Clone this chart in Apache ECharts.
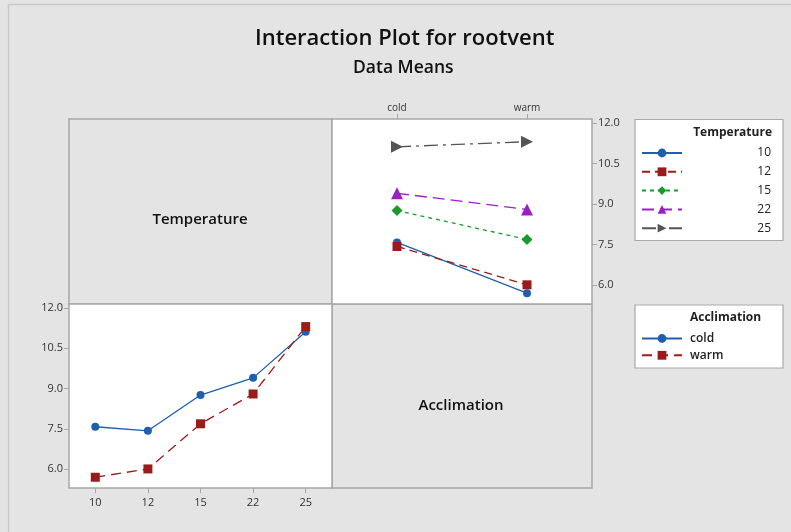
<!DOCTYPE html>
<html><head><meta charset="utf-8">
<script src="https://cdn.jsdelivr.net/npm/echarts@6/dist/echarts.min.js"></script>
<style>html,body{margin:0;padding:0;background:#e4e4e4}#c{width:791px;height:532px}</style>
</head><body><div id="c"></div>
<script>
const acclimation = ['cold', 'warm'];
const temperatures = ['10', '12', '15', '22', '25'];
// means by temperature (rows) and acclimation (cold, warm)
const temp10 = [7.58, 5.70];
const temp12 = [7.43, 6.01];
const temp15 = [8.76, 7.69];
const temp22 = [9.40, 8.80];
const temp25 = [11.12, 11.31];
// means by acclimation across temperatures
const coldMeans = [7.58, 7.43, 8.76, 9.40, 11.12];
const warmMeans = [5.70, 6.01, 7.69, 8.80, 11.31];
const yTicks = [6.0, 7.5, 9.0, 10.5, 12.0];

const FONT = 'Open Sans';
const GRIDC = '#a6a6a6';
const tempStyles = [
  {name:'10', data:temp10, color:'#1f5fad', symbol:'circle', size:8, dash:'solid'},
  {name:'12', data:temp12, color:'#9b1b1b', symbol:'rect', size:9, dash:[8,5]},
  {name:'15', data:temp15, color:'#1a9a2c', symbol:'diamond', size:11, dash:[4,4]},
  {name:'22', data:temp22, color:'#9b20c4', symbol:'triangle', size:12, dash:[12,6]},
  {name:'25', data:temp25, color:'#555555', symbol:'path://M0,0L10,5L0,10Z', size:12, dash:[14,5,3,5]}
];

const chart = echarts.init(document.getElementById('c'), null, {renderer:'canvas'});
const yAxisCommon = {
  type:'value', min:5.3, max:12.15,
  splitLine:{show:false},
  axisLine:{show:false},
  axisTick:{show:true, customValues:yTicks, length:5, lineStyle:{color:GRIDC}},
  axisLabel:{customValues:yTicks, formatter:v=>v.toFixed(1), color:'#333', fontFamily:FONT, fontSize:11, margin:6}
};
const series = [];
tempStyles.forEach(s=>{
  series.push({
    name:s.name, type:'line', xAxisIndex:0, yAxisIndex:0, data:s.data,
    symbol:s.symbol, symbolSize:s.size, showSymbol:true,
    itemStyle:{color:s.color}, lineStyle:{color:s.color, width:1.3, type:s.dash},
    emphasis:{disabled:true}, animation:false, z:3
  });
});
series.push({
  name:'cold', type:'line', xAxisIndex:1, yAxisIndex:1, data:coldMeans,
  symbol:'circle', symbolSize:8, itemStyle:{color:'#1f5fad'}, lineStyle:{color:'#1f5fad', width:1.3, type:'solid'},
  animation:false, z:3
});
series.push({
  name:'warm', type:'line', xAxisIndex:1, yAxisIndex:1, data:warmMeans,
  symbol:'rect', symbolSize:9, itemStyle:{color:'#9b1b1b'}, lineStyle:{color:'#9b1b1b', width:1.3, type:[10,6]},
  animation:false, z:3
});

const option = {
  backgroundColor:'#e4e4e4',
  animation:false,
  title:[
    {text:'Interaction Plot for rootvent', left:250, top:23, textStyle:{fontFamily:FONT, fontSize:22, fontWeight:600, color:'#111'}},
    {text:'Data Means', left:348, top:54, textStyle:{fontFamily:FONT, fontSize:17.5, fontWeight:600, color:'#111'}}
  ],
  grid:[
    {left:332, top:119, width:260, height:185, show:true, backgroundColor:'#ffffff', borderColor:GRIDC, borderWidth:1.5, containLabel:false},
    {left:69, top:304, width:263, height:184, show:true, backgroundColor:'#ffffff', borderColor:GRIDC, borderWidth:1.5, containLabel:false}
  ],
  xAxis:[
    {type:'category', gridIndex:0, data:acclimation, position:'top', boundaryGap:true,
     axisLine:{show:false}, axisTick:{show:true, alignWithLabel:true, length:5, lineStyle:{color:GRIDC}},
     axisLabel:{color:'#333', fontFamily:FONT, fontSize:10, margin:6}},
    {type:'category', gridIndex:1, data:temperatures, position:'bottom', boundaryGap:true,
     axisLine:{show:false}, axisTick:{show:true, alignWithLabel:true, length:5, lineStyle:{color:GRIDC}},
     axisLabel:{color:'#333', fontFamily:FONT, fontSize:11, margin:9}}
  ],
  yAxis:[
    Object.assign({}, yAxisCommon, {gridIndex:0, position:'right'}),
    Object.assign({}, yAxisCommon, {gridIndex:1, position:'left'})
  ],
  legend:[
    {data:temperatures, orient:'vertical', left:641, top:147, padding:0, itemWidth:40, itemHeight:11, itemGap:6.8,
     selectedMode:false,
     formatter:n=>'{a|'+n+'}',
     textStyle:{fontFamily:FONT, fontSize:12, color:'#222', rich:{a:{width:84, align:'right', fontFamily:FONT, fontSize:12, color:'#222'}}}},
    {data:acclimation, orient:'vertical', left:641, top:332.5, padding:0, itemWidth:40, itemHeight:11, itemGap:4.8, selectedMode:false,
     textStyle:{fontFamily:FONT, fontSize:12, fontWeight:600, color:'#222', padding:[0,0,0,3]}}
  ],
  graphic:[
    {type:'rect', shape:{x:8.5, y:4.5, width:800, height:540}, style:{fill:'none', stroke:'#c8c8c8', lineWidth:1.5}, silent:true, z:-10},
    {type:'rect', shape:{x:69, y:119, width:263, height:185}, style:{fill:'#e4e4e4', stroke:GRIDC, lineWidth:1.5}, silent:true, z:-1},
    {type:'rect', shape:{x:332, y:304, width:260, height:184}, style:{fill:'#e4e4e4', stroke:GRIDC, lineWidth:1.5}, silent:true, z:-1},
    {type:'text', x:200, y:220, style:{text:'Temperature', fontFamily:FONT, fontSize:15, fontWeight:600, fill:'#111', align:'center', verticalAlign:'middle'}, silent:true},
    {type:'text', x:461, y:406, style:{text:'Acclimation', fontFamily:FONT, fontSize:15, fontWeight:600, fill:'#111', align:'center', verticalAlign:'middle'}, silent:true},
    {type:'rect', shape:{x:635, y:119.5, width:148, height:121}, style:{fill:'#ffffff', stroke:'#a9a9a9', lineWidth:1.2}, silent:true, z:-1},
    {type:'text', x:772, y:133, style:{text:'Temperature', fontFamily:FONT, fontSize:12, fontWeight:700, fill:'#222', align:'right', verticalAlign:'middle'}, silent:true},
    {type:'rect', shape:{x:635, y:305, width:148, height:63}, style:{fill:'#ffffff', stroke:'#a9a9a9', lineWidth:1.2}, silent:true, z:-1},
    {type:'text', x:690, y:318, style:{text:'Acclimation', fontFamily:FONT, fontSize:12, fontWeight:700, fill:'#222', align:'left', verticalAlign:'middle'}, silent:true}
  ],
  series:series
};
chart.setOption(option);
</script></body></html>
